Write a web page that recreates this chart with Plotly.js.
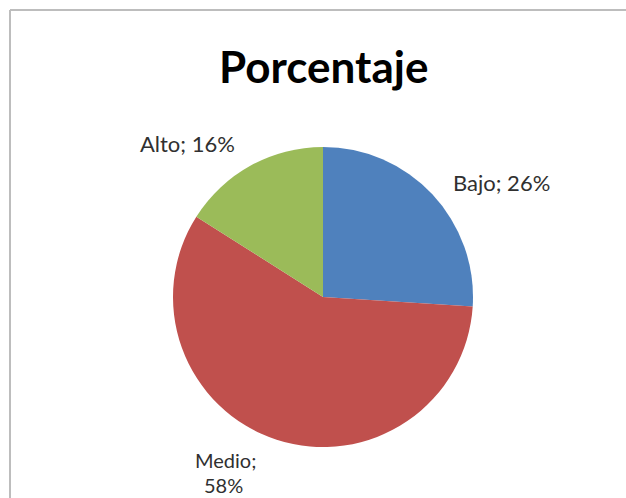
<!DOCTYPE html>
<html><head><meta charset="utf-8">
<script src="https://cdn.plot.ly/plotly-3.0.1.min.js"></script>
<style>html,body{margin:0;padding:0;background:#fff}#c{width:626px;height:498px}</style>
</head><body><div id="c"></div>
<script>
const labels = ["Bajo", "Medio", "Alto"];
const values = [26, 58, 16];
const colors = ["#4F81BD", "#C0504D", "#9BBB59"];
const titleText = "Porcentaje";

const W = 626, H = 498;
const px = x => x / W, py = y => 1 - y / H;

// label anchor positions (pixels) for each slice
const labelPos = [
  {x: 501, y: 182, size: 22, text: labels[0] + "; " + values[0] + "%"},
  {x: 225, y: 460, size: 20, text: labels[1] + ";"},
  {x: 223, y: 485, size: 20, text: values[1] + "%"},
  {x: 187, y: 143, size: 22, text: labels[2] + "; " + values[2] + "%"}
];

const data = [{
  type: "pie",
  labels: labels,
  values: values,
  sort: false,
  direction: "clockwise",
  rotation: 0,
  textinfo: "none",
  hoverinfo: "label+percent",
  marker: {colors: colors, line: {width: 0}},
  domain: {x: [px(173), px(473)], y: [py(447), py(147)]},
  showlegend: false
}];

const annotations = labelPos.map(p => ({
  x: px(p.x), y: py(p.y), xref: "paper", yref: "paper",
  text: p.text, showarrow: false, xanchor: "center", yanchor: "middle", borderpad: 0,
  font: {family: "Lato, 'Open Sans', sans-serif", size: p.size, color: "#303030"}
}));
annotations.push({
  x: px(324), y: py(66), xref: "paper", yref: "paper",
  text: "<b>" + titleText + "</b>", showarrow: false, xanchor: "center", yanchor: "middle",
  font: {family: "Lato, 'Open Sans', sans-serif", size: 44, color: "#000"}
});

const layout = {
  width: W, height: H,
  margin: {l: 0, r: 0, t: 0, b: 0},
  paper_bgcolor: "#ffffff",
  annotations: annotations,
  shapes: [
    {type: "line", xref: "paper", yref: "paper", x0: px(10), x1: 1, y0: py(10), y1: py(10), line: {color: "#BDBDBD", width: 2}},
    {type: "line", xref: "paper", yref: "paper", x0: px(10), x1: px(10), y0: py(10), y1: 0, line: {color: "#BDBDBD", width: 2}}
  ]
};
Plotly.newPlot("c", data, layout, {displayModeBar: false, staticPlot: true});
</script></body></html>
